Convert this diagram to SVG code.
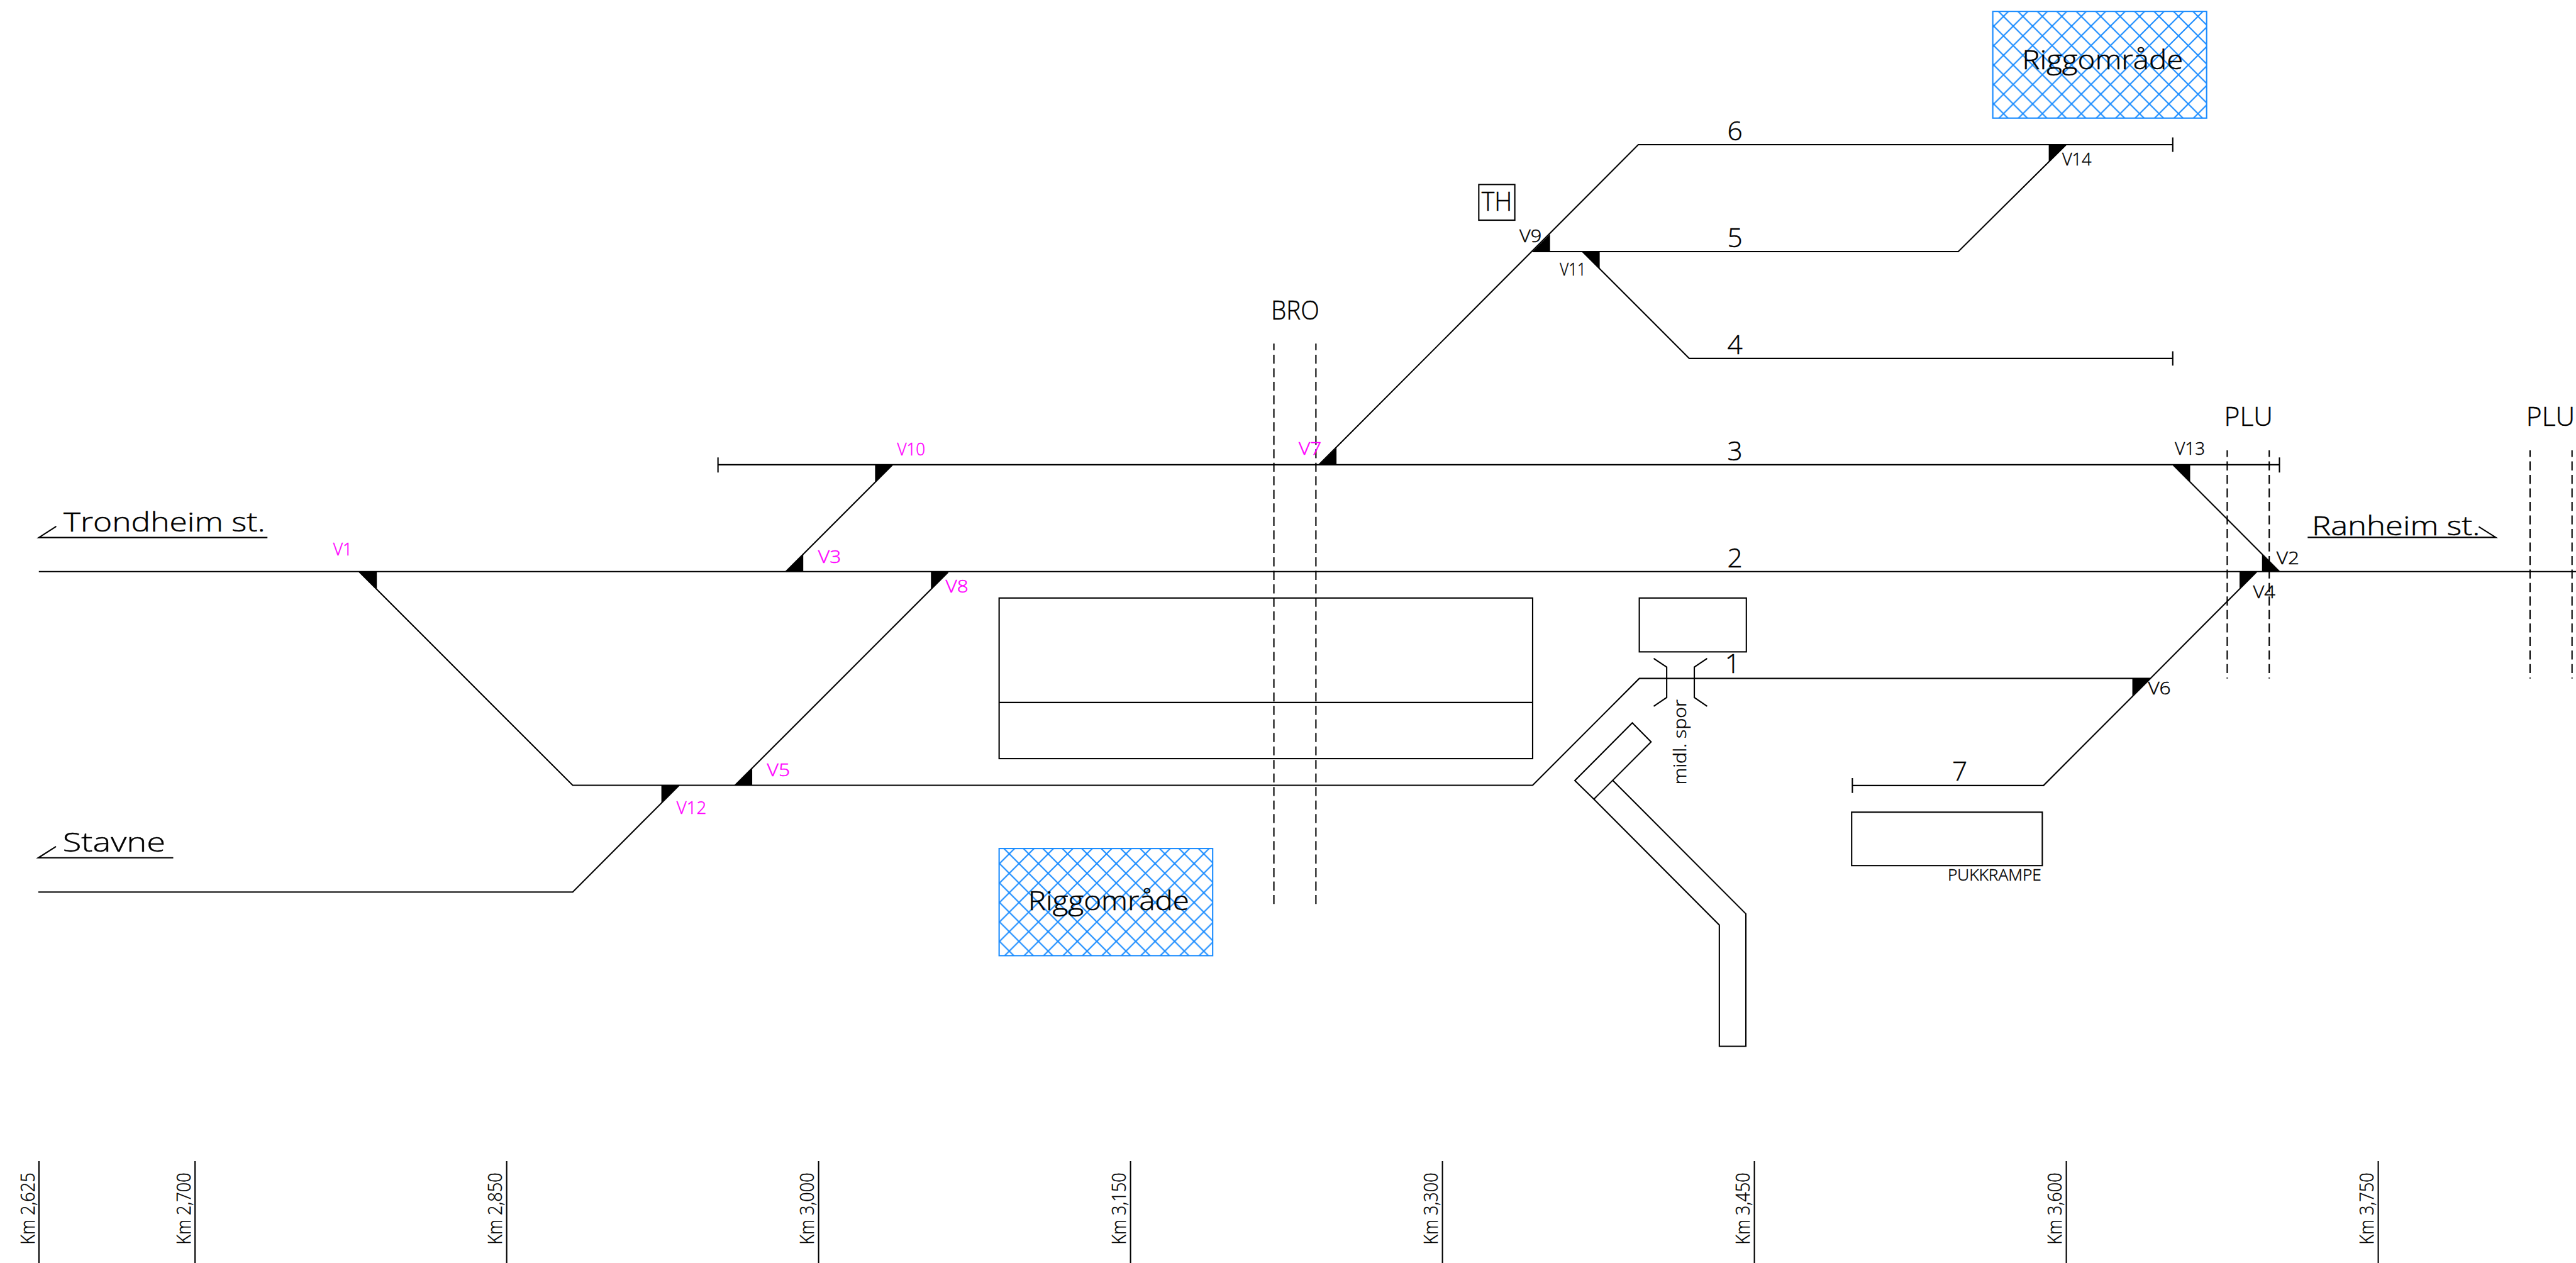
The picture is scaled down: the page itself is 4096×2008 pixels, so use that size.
<svg xmlns="http://www.w3.org/2000/svg" width="4096" height="2008" viewBox="0 0 4096 2008">
<style>
.l{fill:none;stroke:#000;stroke-width:2.2;stroke-linejoin:miter}
.d{fill:none;stroke:#000;stroke-width:2.2;stroke-dasharray:15 7.5;stroke-dashoffset:4}
.t{fill:#000;stroke:none}
.f{stroke:#1a8cff;stroke-width:2.2}
text{font-family:"Open Sans","Liberation Sans",sans-serif;font-weight:300;fill:#000;stroke:#000;stroke-width:.5;text-anchor:start}
.b{font-size:44.5px}
.s{font-size:28px}
text.m{fill:#ff00ff;stroke:#ff00ff}
.k{font-size:33.5px}
.n{font-size:44.5px;text-anchor:middle}
</style>
<defs>
<pattern id="ha" patternUnits="userSpaceOnUse" x="3337.3" y="27.3" width="32.4" height="32.4"><path d="M-4 -4L36.4 36.4M36.4 -4L-4 36.4" stroke="#1a8cff" stroke-width="2.2" fill="none"/></pattern>
<pattern id="hc" patternUnits="userSpaceOnUse" x="1665" y="1438.3" width="32.4" height="32.4"><path d="M-4 -4L36.4 36.4M36.4 -4L-4 36.4" stroke="#1a8cff" stroke-width="2.2" fill="none"/></pattern>
</defs>
<rect width="4096" height="2008" fill="#fff"/>
<g transform="scale(0.954556)">
<g id="connectors">
<path class="l" d="M64.7 952H4291"/>
<path class="l" d="M1196 774H3797M1196 762V787M3797 762V787"/>
<path class="l" d="M598 952L954 1308H2553L2730.7 1130H3582L3759.4 952"/>
<path class="l" d="M1309 952L1487 774"/>
<path class="l" d="M1224.3 1308L1579.3 953"/>
<path class="l" d="M63.8 1485.7H954L1131.3 1308"/>
<path class="l" d="M2197 774L2729 241H3619.3M3619.3 229V253"/>
<path class="l" d="M2552.7 419H3262L3441.7 241"/>
<path class="l" d="M2636 419L2814 597H3619.3M3619.3 585V609"/>
<path class="l" d="M3619.5 774L3797 952"/>
<path class="l" d="M3085.6 1308.3H3404L3582 1130M3085.6 1296V1320.7"/>
</g>
<g id="switches">
<path class="t" d="M598 952H627.7V980.7Z"/>
<path class="t" d="M3619.5 774H3648.3V803Z"/>
<path class="t" d="M3768 924V952H3797Z"/>
<path class="t" d="M3730.5 952H3759.4L3730.5 981Z"/>
<path class="t" d="M3552 1130H3582L3552 1159Z"/>
<path class="t" d="M3412.7 241H3441.7L3412.7 269.5Z"/>
<path class="t" d="M2552.7 419H2582V390Z"/>
<path class="t" d="M2636 419H2664.7V446.7Z"/>
<path class="t" d="M1457.7 774H1487.3L1457.7 803.5Z"/>
<path class="t" d="M1309 952H1338V923.5Z"/>
<path class="t" d="M1550.7 952H1579.3L1550.7 981.5Z"/>
<path class="t" d="M1224.3 1308H1253V1279.5Z"/>
<path class="t" d="M2197.7 774H2226.3V745.7Z"/>
<path class="t" d="M1101.7 1308H1131.2L1101.7 1337Z"/>
</g>
<g id="bro-lines">
<path class="d" d="M2122 572.3V1507.3"/>
<path class="d" d="M2192 572.3V1507.3"/>
</g>
<g id="plu-lines">
<path class="d" d="M3710 750V1130"/>
<path class="d" d="M3780 750V1130"/>
<path class="d" d="M4214.5 750V1130"/>
<path class="d" d="M4284.4 750V1130"/>
</g>
<g id="rigg-top">
<rect x="3319.5" y="19" width="356.2" height="177.7" fill="url(#ha)" class="f"/>
<text class="b" x="3368.3" y="115" textLength="268.4" lengthAdjust="spacingAndGlyphs">Riggområde</text>
</g>
<g id="rigg-bottom">
<rect x="1664.3" y="1413.3" width="355.7" height="178.4" fill="url(#hc)" class="f"/>
<text class="b" x="1712.7" y="1515.7" textLength="268.3" lengthAdjust="spacingAndGlyphs">Riggområde</text>
</g>
<g id="building-main">
<rect class="l" x="1664.3" y="996" width="888.7" height="267.5"/>
<path class="l" d="M1664.3 1170H2553"/>
</g>
<g id="building-small"><rect class="l" x="2730.7" y="996" width="178.3" height="89.7"/></g>
<g id="pukkrampe">
<rect class="l" x="3084.4" y="1352.7" width="317.6" height="89"/>
<text class="s" style="font-size:26.6px" x="3244.4" y="1466.7" textLength="156" lengthAdjust="spacingAndGlyphs">PUKKRAMPE</text>
</g>
<g id="th">
<rect class="l" x="2463.3" y="307.3" width="60" height="59.4"/>
<text class="b" x="2468" y="351" textLength="51" lengthAdjust="spacingAndGlyphs">TH</text>
</g>
<g id="bridge-midl">
<path class="l" d="M2754.7 1096.7L2776.3 1111V1161.7L2754.7 1176.3"/>
<path class="l" d="M2843.7 1096.7L2822.3 1111V1161.7L2843.7 1176.3"/>
<text class="s" transform="rotate(-90 2808.3 1307)" x="2808.3" y="1307" textLength="142" lengthAdjust="spacingAndGlyphs">midl. spor</text>
</g>
<g id="structure">
<path class="l" d="M2719 1204L2750.3 1235.7L2655 1331L2623.3 1300Z"/>
<path class="l" d="M2686.7 1300L2908.2 1522V1742.7H2864V1540.7L2655 1331"/>
</g>
<g id="stations">
<path class="l" d="M445.5 895.3H64.7L93.7 876.7"/>
<text class="b" x="105.8" y="885.7" textLength="336" lengthAdjust="spacingAndGlyphs">Trondheim st.</text>
<path class="l" d="M288.6 1428.7H63.8L93.3 1410"/>
<text class="b" x="104.4" y="1418.3" textLength="171.4" lengthAdjust="spacingAndGlyphs">Stavne</text>
<path class="l" d="M3844 895H4157.3L4129 877.3"/>
<text class="b" x="3851" y="891.7" textLength="280" lengthAdjust="spacingAndGlyphs">Ranheim st.</text>
</g>
<g id="labels">
<text class="b" x="2117.3" y="531.7" textLength="80.4" lengthAdjust="spacingAndGlyphs">BRO</text>
<text class="b" x="3705" y="709.3" textLength="81" lengthAdjust="spacingAndGlyphs">PLU</text>
<text class="b" x="4208" y="709.3" textLength="81" lengthAdjust="spacingAndGlyphs">PLU</text>
<text class="n" x="2890" y="234">6</text>
<text class="n" x="2890" y="412">5</text>
<text class="n" x="2890" y="590">4</text>
<text class="n" x="2890" y="767">3</text>
<text class="n" x="2890" y="945">2</text>
<text class="n" x="2886" y="1120.7">1</text>
<text class="n" x="3264.5" y="1300">7</text>
<text class="s m" x="555" y="925.3" textLength="32" lengthAdjust="spacingAndGlyphs">V1</text>
<text class="s m" x="1494.3" y="759" textLength="47" lengthAdjust="spacingAndGlyphs">V10</text>
<text class="s m" x="1362.7" y="938" textLength="38.3" lengthAdjust="spacingAndGlyphs">V3</text>
<text class="s m" x="1575" y="987" textLength="38" lengthAdjust="spacingAndGlyphs">V8</text>
<text class="s m" x="1277.7" y="1293" textLength="38.3" lengthAdjust="spacingAndGlyphs">V5</text>
<text class="s m" x="2163.3" y="757.7" textLength="38" lengthAdjust="spacingAndGlyphs">V7</text>
<text class="s m" x="1127" y="1355.3" textLength="49.7" lengthAdjust="spacingAndGlyphs">V12</text>
<text class="s" x="3435" y="276" textLength="49" lengthAdjust="spacingAndGlyphs">V14</text>
<text class="s" x="2531" y="403" textLength="37" lengthAdjust="spacingAndGlyphs">V9</text>
<text class="s" x="2598.3" y="459" textLength="43.4" lengthAdjust="spacingAndGlyphs">V11</text>
<text class="s" x="3623" y="757" textLength="50" lengthAdjust="spacingAndGlyphs">V13</text>
<text class="s" x="3792" y="940" textLength="38" lengthAdjust="spacingAndGlyphs">V2</text>
<text class="s" x="3753" y="996.7" textLength="37" lengthAdjust="spacingAndGlyphs">V4</text>
<text class="s" x="3578" y="1157" textLength="38" lengthAdjust="spacingAndGlyphs">V6</text>
</g>
<g id="km-posts">
<path class="l" d="M64.9 1934V2104M324.9 1934V2104M844 1934V2104M1363.6 1934V2104M1883.2 1934V2104M2402.8 1934V2104M2922.4 1934V2104M3442 1934V2104M3961.6 1934V2104"/>
<text class="k" transform="rotate(-90 57.4 2073)" x="57.4" y="2073" textLength="120" lengthAdjust="spacingAndGlyphs">Km 2,625</text>
<text class="k" transform="rotate(-90 317.4 2073)" x="317.4" y="2073" textLength="120" lengthAdjust="spacingAndGlyphs">Km 2,700</text>
<text class="k" transform="rotate(-90 836.5 2073)" x="836.5" y="2073" textLength="120" lengthAdjust="spacingAndGlyphs">Km 2,850</text>
<text class="k" transform="rotate(-90 1356.1 2073)" x="1356.1" y="2073" textLength="120" lengthAdjust="spacingAndGlyphs">Km 3,000</text>
<text class="k" transform="rotate(-90 1875.7 2073)" x="1875.7" y="2073" textLength="120" lengthAdjust="spacingAndGlyphs">Km 3,150</text>
<text class="k" transform="rotate(-90 2395.3 2073)" x="2395.3" y="2073" textLength="120" lengthAdjust="spacingAndGlyphs">Km 3,300</text>
<text class="k" transform="rotate(-90 2914.9 2073)" x="2914.9" y="2073" textLength="120" lengthAdjust="spacingAndGlyphs">Km 3,450</text>
<text class="k" transform="rotate(-90 3434.5 2073)" x="3434.5" y="2073" textLength="120" lengthAdjust="spacingAndGlyphs">Km 3,600</text>
<text class="k" transform="rotate(-90 3954.1 2073)" x="3954.1" y="2073" textLength="120" lengthAdjust="spacingAndGlyphs">Km 3,750</text>
</g>
</g>
</svg>
